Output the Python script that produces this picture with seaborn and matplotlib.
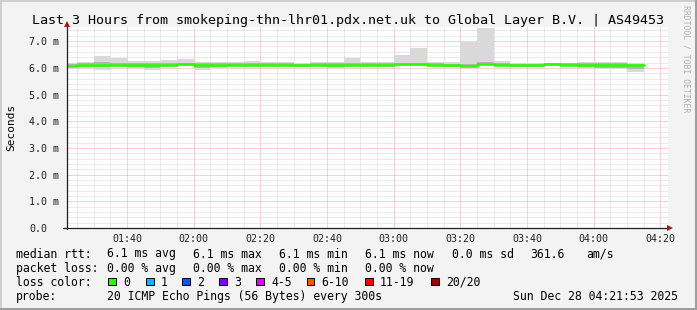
import numpy as np
import pandas as pd
import matplotlib
matplotlib.use("Agg")
import matplotlib.pyplot as plt
from matplotlib.patches import Rectangle
from matplotlib.lines import Line2D
from matplotlib.ticker import MultipleLocator, FixedLocator
import seaborn as sns

# ---------------- data ----------------
bin_start = ["01:20", "01:25", "01:30", "01:35", "01:40", "01:45", "01:50", "01:55",
             "02:00", "02:05", "02:10", "02:15", "02:20", "02:25", "02:30", "02:35",
             "02:40", "02:45", "02:50", "02:55", "03:00", "03:05", "03:10", "03:15",
             "03:20", "03:25", "03:30", "03:35", "03:40", "03:45", "03:50", "03:55",
             "04:00", "04:05", "04:10"]
bin_end = "04:15"

median_ms = [6.06, 6.12, 6.11, 6.12, 6.12, 6.12, 6.12, 6.13,
             6.12, 6.12, 6.12, 6.12, 6.12, 6.12, 6.12, 6.12,
             6.12, 6.12, 6.12, 6.12, 6.13, 6.14, 6.12, 6.10,
             6.06, 6.16, 6.12, 6.10, 6.10, 6.15, 6.12, 6.11,
             6.11, 6.11, 6.10]
smoke_min = [6.02, 5.98, 5.92, 6.04, 5.98, 5.92, 6.04, 6.08,
             5.92, 5.98, 6.04, 6.04, 6.04, 6.04, 6.02, 6.04,
             5.98, 6.02, 6.04, 6.04, 6.08, 6.08, 6.04, 6.04,
             6.02, 6.10, 6.06, 6.02, 6.02, 6.08, 6.08, 5.98,
             5.94, 5.94, 5.85]
smoke_max = [6.20, 6.23, 6.44, 6.37, 6.27, 6.27, 6.29, 6.32,
             6.23, 6.23, 6.23, 6.25, 6.23, 6.23, 6.20, 6.23,
             6.23, 6.35, 6.23, 6.23, 6.49, 6.74, 6.23, 6.23,
             6.98, 7.48, 6.27, 6.20, 6.20, 6.20, 6.20, 6.23,
             6.23, 6.23, 6.17]
core_lo = [6.03, 6.05, 6.03, 6.07, 6.05, 6.00, 6.07, 6.09,
           5.98, 6.04, 6.06, 6.06, 6.06, 6.06, 6.05, 6.06,
           6.04, 6.06, 6.06, 6.06, 6.09, 6.10, 6.06, 6.05,
           6.03, 6.12, 6.07, 6.04, 6.04, 6.10, 6.09, 6.03,
           6.00, 6.01, 5.97]
core_hi = [6.16, 6.18, 6.21, 6.20, 6.18, 6.18, 6.18, 6.20,
           6.17, 6.17, 6.17, 6.18, 6.17, 6.17, 6.16, 6.17,
           6.17, 6.20, 6.17, 6.17, 6.19, 6.20, 6.17, 6.16,
           6.15, 6.22, 6.20, 6.15, 6.15, 6.17, 6.17, 6.17,
           6.17, 6.17, 6.14]

xtick_labels = ["01:40", "02:00", "02:20", "02:40", "03:00", "03:20", "03:40", "04:00", "04:20"]
ytick_values = [0, 1, 2, 3, 4, 5, 6, 7]
ytick_labels = ["0.0", "1.0 m", "2.0 m", "3.0 m", "4.0 m", "5.0 m", "6.0 m", "7.0 m"]

loss_labels = ["0", "1", "2", "3", "4-5", "6-10", "11-19", "20/20"]
loss_colors = ["#26ff00", "#00b8ff", "#0059ff", "#7e00ff", "#dd00ff", "#ff5500", "#ff0000", "#a10000"]

title_text = "Last 3 Hours from smokeping-thn-lhr01.pdx.net.uk to Global Layer B.V. | AS49453"


def to_min(s):
    h, m = s.split(":")
    return int(h) * 60 + int(m)


# ---------------- styling ----------------
sns.set_theme(style="white")
plt.rcParams["font.family"] = ["DejaVu Sans Mono"]

W, H = 697, 310
BACK = "#f3f3f3"
fig = plt.figure(figsize=(W / 100, H / 100), dpi=100, facecolor=BACK)


def fx(x):
    return x / W


def fy(y):
    return 1 - y / H


ax = fig.add_axes([fx(67), fy(228), 601 / W, 201 / H])
ax.set_facecolor("white")

edges = [to_min(s) for s in bin_start] + [to_min(bin_end)]
df = pd.DataFrame({
    "t": edges,
    "median": median_ms + [median_ms[-1]],
    "smin": smoke_min + [smoke_min[-1]],
    "smax": smoke_max + [smoke_max[-1]],
    "clo": core_lo + [core_lo[-1]],
    "chi": core_hi + [core_hi[-1]],
})

# smoke
ax.fill_between(df["t"], df["smin"], df["smax"], step="post", color="#d9d9d9", linewidth=0, zorder=2)
ax.fill_between(df["t"], df["clo"], df["chi"], step="post", color="#b4b4b4", linewidth=0, zorder=3)
# median coloured by loss (0 loss -> green)
sns.lineplot(data=df, x="t", y="median", drawstyle="steps-post", color=loss_colors[0],
             linewidth=1.8, estimator=None, ax=ax, legend=False, zorder=4)

ax.set_xlim(82, 262.3)
ax.set_ylim(0, 7.53)

ax.xaxis.set_major_locator(FixedLocator([to_min(s) for s in xtick_labels]))
ax.set_xticklabels(xtick_labels)
ax.xaxis.set_minor_locator(MultipleLocator(5))
ax.set_yticks(ytick_values)
ax.set_yticklabels(ytick_labels)
ax.yaxis.set_minor_locator(MultipleLocator(0.2))

ax.grid(which="minor", color="#d6d6d6", linestyle=(0, (1, 1)), linewidth=0.72, zorder=0)
ax.grid(which="major", color="#f2a6a6", linestyle=(0, (1, 1)), linewidth=0.72, zorder=1)
ax.set_axisbelow(True)

for s in ["top", "right", "left", "bottom"]:
    ax.spines[s].set_visible(False)

ax.tick_params(axis="x", which="major", length=2, width=0.7, color="#202020",
               pad=2, labelsize=7.2, labelcolor="#202020")
ax.tick_params(axis="x", which="minor", length=0)
ax.tick_params(axis="y", which="major", length=2, width=0.7, color="#202020",
               pad=25.2, labelsize=7.2, labelcolor="#202020")
ax.tick_params(axis="y", which="minor", length=0)
for lab in ax.get_yticklabels():
    lab.set_horizontalalignment("left")
ax.set_xlabel("")
ax.set_ylabel("")

# axis lines and arrows
fig.add_artist(Line2D([fx(67), fx(67)], [fy(229), fy(24)], color="#202020", lw=0.9))
fig.add_artist(Line2D([fx(63), fx(669)], [fy(228), fy(228)], color="#202020", lw=0.9))
fig.add_artist(Line2D([fx(67)], [fy(24)], marker="^", markersize=4.5, color="#a01818",
                      markeredgewidth=0, transform=fig.transFigure))
fig.add_artist(Line2D([fx(670)], [fy(228)], marker=">", markersize=4.5, color="#a01818",
                      markeredgewidth=0, transform=fig.transFigure))

# title and labels
fig.text(fx(348), fy(24), title_text, ha="center", va="baseline", fontsize=9.6, color="#000000")
fig.text(fx(11), fy(127), "Seconds", rotation=90, ha="center", va="center", fontsize=8.0, color="#000000")
fig.text(fx(686), fy(5), "RRDTOOL / TOBI OETIKER", rotation=270, ha="center", va="top",
         fontsize=5.9, color="#b0b0b0")

# legend rows
LF = 8.3
rows = [
    (257.5, [(16, "median rtt:"), (107, "6.1 ms avg"), (193, "6.1 ms max"), (279, "6.1 ms min"),
             (365, "6.1 ms now"), (452, "0.0 ms sd"), (530, "361.6"), (586, "am/s")]),
    (271.7, [(16, "packet loss:"), (107, "0.00 % avg"), (193, "0.00 % max"), (279, "0.00 % min"),
             (365, "0.00 % now")]),
    (285.8, [(16, "loss color:")]),
    (299.7, [(16, "probe:"), (107, "20 ICMP Echo Pings (56 Bytes) every 300s"),
             (513, "Sun Dec 28 04:21:53 2025")]),
]
for yb, items in rows:
    for x, t in items:
        fig.text(fx(x), fy(yb), t, ha="left", va="baseline", fontsize=LF, color="#000000")

box_x = [108, 146, 182, 219, 256, 306.5, 365, 431]
for bx, lab, col in zip(box_x, loss_labels, loss_colors):
    fig.add_artist(Rectangle((fx(bx), fy(285)), 7.5 / W, 7.5 / H, transform=fig.transFigure,
                             facecolor=col, edgecolor="#000000", linewidth=0.7))
    fig.text(fx(bx + 15), fy(285.8), lab, ha="left", va="baseline", fontsize=LF, color="#000000")

# 3D frame
fig.add_artist(Rectangle((0, 1 - 2 / H), 1, 2 / H, transform=fig.transFigure, color="#cfcfcf", lw=0))
fig.add_artist(Rectangle((0, 0), 2 / W, 1, transform=fig.transFigure, color="#cfcfcf", lw=0))
fig.add_artist(Rectangle((0, 0), 1, 2 / H, transform=fig.transFigure, color="#9e9e9e", lw=0))
fig.add_artist(Rectangle((1 - 2 / W, 0), 2 / W, 1, transform=fig.transFigure, color="#9e9e9e", lw=0))

fig.savefig("out.png", dpi=100, facecolor=BACK)
